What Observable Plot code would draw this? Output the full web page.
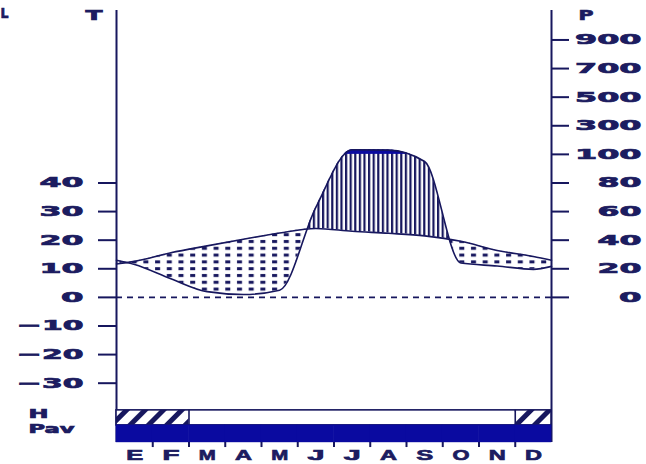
<!DOCTYPE html>
<html><head><meta charset="utf-8">
<script src="https://cdn.jsdelivr.net/npm/d3@7"></script>
<script src="https://cdn.jsdelivr.net/npm/@observablehq/plot@0.6"></script>
<style>html,body{margin:0;padding:0;background:#fff}svg{display:block}</style>
</head><body><div id="chart"></div>
<script>
// ---- data ----
const months = ["E","F","M","A","M","J","J","A","S","O","N","D"];
const temperature   = [12.6, 15.6, 18.0, 20.3, 22.5, 24.1, 23.1, 22.4, 21.5, 19.6, 16.4, 14.3]; // °C
const precipitation = [23, 13, 4, 2, 5, 63, 132, 130, 95, 24, 22, 19.6];                     // mm
const edgeTemperature   = [11.7, 13.0];   // values at the left / right edge of the year
const edgePrecipitation = [26, 21.7];
const tempTicks   = [-30, -20, -10, 0, 10, 20, 30, 40];
const precipTicks = [0, 20, 40, 60, 80, 100, 300, 500, 700, 900];
const frostSpans  = [[0, 2], [11, 12]];          // hatched spans in row H (months)
const pavMonths   = [0,1,2,3,4,5,6,7,8,9,10,11]; // solid cells in row Pav

// Walter-Lieth precipitation axis: 20 mm = 10 °C up to 100 mm, then 200 mm = 10 °C
const pToT = p => p <= 100 ? p / 2 : 50 + (p - 100) / 20;

const rows = [
  {x: 0, t: edgeTemperature[0], p: pToT(edgePrecipitation[0])},
  ...months.map((m, i) => ({x: i + 0.5, t: temperature[i], p: pToT(precipitation[i])})),
  {x: 12, t: edgeTemperature[1], p: pToT(edgePrecipitation[1])}
];

const navy = "#17175e", solid = "#0a0aa0", ink = "#1c1c60";
const Y0 = -50.7, Y1 = 100.3;
const curve = "monotone-x";
const tick = 18 / 36.25; // tick length in months

const named = [
  ["clip-above", Plot.areaY(rows, {x: "x", y1: "t", y2: Y1, curve})],
  ["clip-below", Plot.areaY(rows, {x: "x", y1: "t", y2: Y0, curve})],
  ["clip-underp", Plot.areaY(rows, {x: "x", y1: "p", y2: Y0, curve})],
  ["arid", Plot.areaY(rows, {x: "x", y1: "t", y2: "p", curve, fill: "url(#dots)"})],
  ["humid", Plot.areaY(rows, {x: "x", y1: "t", y2: "p", curve, fill: "url(#vhatch)"})],
  ["wet", Plot.rect([0], {x1: 0, x2: 12, y1: 50, y2: Y1, fill: solid})],
  ["tline", Plot.lineY(rows, {x: "x", y: "t", curve, stroke: navy, strokeWidth: 1.6})],
  ["pline", Plot.lineY(rows, {x: "x", y: "p", curve, stroke: navy, strokeWidth: 1.6})],
  ["zero", Plot.ruleY([0], {x1: 0, x2: 12, stroke: navy, strokeWidth: 1.6, strokeDasharray: "6,5"})],
  ["frame", Plot.ruleX([0, 12], {y1: Y0, y2: Y1, stroke: navy, strokeWidth: 2})],
  ["tick-left", Plot.ruleY(tempTicks, {y: d => d, x1: -tick, x2: 0, stroke: navy, strokeWidth: 2})],
  ["lab-left", Plot.text(tempTicks, {y: d => d, x: 0, dx: -33, textAnchor: "end", fill: ink,
      text: d => d < 0 ? "\u2212" + Math.abs(d) : String(d)})],
  ["tick-right", Plot.ruleY(precipTicks, {y: d => pToT(d), x1: 12, x2: 12 + tick, stroke: navy, strokeWidth: 2})],
  ["lab-right", Plot.text(precipTicks, {y: d => pToT(d), x: 12, dx: 90, textAnchor: "end", fill: ink, text: d => String(d)})],
  ["hrow", Plot.rect([0], {x1: 0, x2: 12, y1: -44.75, y2: -39.5, fill: "#fff"})],
  ["frost", Plot.rect(frostSpans, {x1: d => d[0], x2: d => d[1], y1: -44.75, y2: -39.5, fill: "url(#dhatch)"})],
  ["hline", Plot.rect([0], {x1: 0, x2: 12, y1: -44.75, y2: -39.5, fill: "none", stroke: navy, strokeWidth: 1.6})],
  ["hdiv", Plot.ruleX(frostSpans.flat().filter(v => v > 0 && v < 12), {x: d => d, y1: -44.75, y2: -39.5, stroke: navy, strokeWidth: 1.6})],
  ["pav", Plot.rect(pavMonths, {x1: d => d, x2: d => d + 1, y1: Y0, y2: -44.75, fill: solid, inset: -0.3})],
  ["mticks", Plot.ruleX(d3.range(1, 12), {x: d => d, y1: Y0, y2: Y0 - 1.8, stroke: navy, strokeWidth: 2})],
  ["lab-month", Plot.text(months, {x: (d, i) => i + 0.5, y: Y0, dy: 13, fill: ink, fontFamily: "Liberation Sans", fontSize: 15})],
  ["lab-T", Plot.text(["T"], {frameAnchor: "top-left", dx: -31, dy: 0, fill: ink})],
  ["lab-L", Plot.text(["L"], {frameAnchor: "top-left", dx: -116, dy: -2, textAnchor: "start", fill: ink})],
  ["lab-P", Plot.text(["P"], {frameAnchor: "top-right", dx: 27, dy: 0, textAnchor: "start", fill: ink})],
  ["lab-H", Plot.text(["H"], {frameAnchor: "bottom-left", lineAnchor: "middle", dx: -88, dy: -28, textAnchor: "start", fill: ink, fontSize: 12.5})],
  ["lab-Pav", Plot.text(["Pav"], {frameAnchor: "bottom-left", lineAnchor: "middle", dx: -88, dy: -13, textAnchor: "start", fill: ink, fontSize: 12.5})]
];

const svg = Plot.plot({
  width: 646, height: 464,
  marginLeft: 116, marginRight: 95, marginTop: 10, marginBottom: 22.1,
  x: {domain: [0, 12], axis: null},
  y: {domain: [Y0, Y1], axis: null},
  style: {fontFamily: "DejaVu Sans", fontSize: "14px", fontWeight: "bold", color: ink, background: "#fff", overflow: "visible"},
  marks: named.map(d => d[1])
});

// the mark groups, in mark order
const groups = Array.from(svg.children).filter(el => el.tagName.toLowerCase() === "g");
const G = {};
named.forEach(([name], i) => { G[name] = groups[i]; });

const ns = "http://www.w3.org/2000/svg";
const defs = document.createElementNS(ns, "defs");
defs.innerHTML = `
<pattern id="dots" patternUnits="userSpaceOnUse" width="11.7" height="6.8">
  <rect x="3" y="2" width="5" height="3" fill="${navy}"/>
</pattern>
<pattern id="vhatch" patternUnits="userSpaceOnUse" width="4.6" height="10">
  <rect x="0" y="0" width="4.6" height="10" fill="#fff"/>
  <rect x="0" y="0" width="2.2" height="10" fill="${navy}"/>
</pattern>
<pattern id="dhatch" patternUnits="userSpaceOnUse" width="13" height="13" patternTransform="rotate(45)">
  <rect x="0" y="0" width="13" height="13" fill="#fff"/>
  <rect x="0" y="0" width="5" height="13" fill="${navy}"/>
</pattern>`;
svg.insertBefore(defs, svg.firstChild);

function makeClip(name, id) {
  const g = G[name];
  const cp = document.createElementNS(ns, "clipPath");
  cp.setAttribute("id", id);
  for (const el of g.querySelectorAll("path,rect")) cp.appendChild(el.cloneNode(true));
  defs.appendChild(cp);
  g.remove();
}
makeClip("clip-above", "cAbove");
makeClip("clip-below", "cBelow");
makeClip("clip-underp", "cUnderP");
G["arid"].setAttribute("clip-path", "url(#cBelow)");
G["humid"].setAttribute("clip-path", "url(#cAbove)");
G["wet"].setAttribute("clip-path", "url(#cUnderP)");

// widen and thicken the blocky glyphs
const widths = {"lab-left": 22.5, "lab-right": 22.5, "lab-month": 17, "lab-T": 17, "lab-L": 8, "lab-P": 15, "lab-H": 20, "lab-Pav": 15.7};
for (const [name, w] of Object.entries(widths)) {
  for (const t of G[name].querySelectorAll("text")) {
    const n = t.textContent.length;
    t.setAttribute("textLength", n * w - (n > 1 ? 1 : 0));
    t.setAttribute("lengthAdjust", "spacingAndGlyphs");
    t.setAttribute("stroke", ink);
    t.setAttribute("stroke-width", "0.7");
  }
}
document.getElementById("chart").appendChild(svg);
</script>
</body></html>
